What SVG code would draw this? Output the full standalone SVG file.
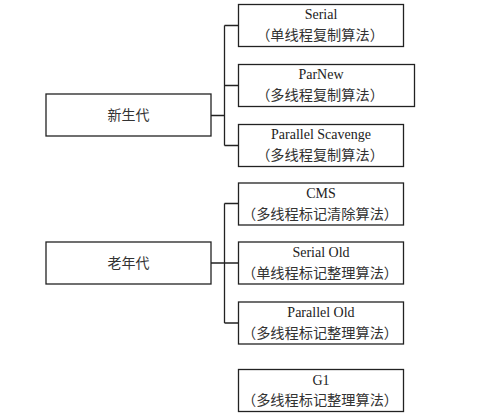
<svg xmlns="http://www.w3.org/2000/svg" width="479" height="420" viewBox="0 0 479 420">
<style>
.box{fill:#fff;stroke:#222;stroke-width:1.3}
.ln{fill:none;stroke:#222;stroke-width:1.3}
.t{font-family:"Liberation Serif","Noto Sans CJK SC",serif;font-size:14px;fill:#222;text-anchor:middle}
.c{font-family:"Noto Sans CJK SC","Liberation Serif",sans-serif;font-size:14.2px;fill:#333;text-anchor:middle}
.g{font-family:"Noto Sans CJK SC",sans-serif;font-size:14px;fill:#333;text-anchor:middle}
</style>
<rect width="479" height="420" fill="#fff"/>
<g id="connectors">
<path class="ln" d="M211 115.5H224.5M224.5 25.5V145.5M224.5 25.5H238.5M224.5 85.5H238.5M224.5 145.5H238.5"/>
<path class="ln" d="M211 263H238.5M224.5 203.5V323M224.5 203.5H238.5M224.5 323H238.5"/>
</g>
<g id="young">
<rect class="box" x="46" y="94" width="165" height="42"/>
<text class="g" x="128.5" y="120">新生代</text>
</g>
<g id="old">
<rect class="box" x="46" y="242" width="165" height="42"/>
<text class="g" x="128.5" y="268">老年代</text>
</g>
<g id="serial">
<rect class="box" x="238.5" y="4.5" width="165" height="42"/>
<text class="t" x="321" y="19">Serial</text>
<text class="c" x="320" y="39.5">（单线程复制算法）</text>
</g>
<g id="parnew">
<rect class="box" x="238.5" y="64.5" width="176" height="42"/>
<text class="t" x="321" y="79">ParNew</text>
<text class="c" x="320" y="99.5">（多线程复制算法）</text>
</g>
<g id="parallel-scavenge">
<rect class="box" x="238.5" y="124.5" width="165" height="42"/>
<text class="t" x="321" y="139">Parallel Scavenge</text>
<text class="c" x="320" y="159.5">（多线程复制算法）</text>
</g>
<g id="cms">
<rect class="box" x="238.5" y="183" width="165" height="42"/>
<text class="t" x="321" y="198">CMS</text>
<text class="c" x="320" y="218.5">（多线程标记清除算法）</text>
</g>
<g id="serial-old">
<rect class="box" x="238.5" y="242" width="165" height="42"/>
<text class="t" x="321" y="257">Serial Old</text>
<text class="c" x="320" y="277.5">（单线程标记整理算法）</text>
</g>
<g id="parallel-old">
<rect class="box" x="238.5" y="302" width="165" height="42"/>
<text class="t" x="321" y="317">Parallel Old</text>
<text class="c" x="320" y="337.5">（多线程标记整理算法）</text>
</g>
<g id="g1">
<rect class="box" x="238.5" y="369.5" width="165" height="42"/>
<text class="t" x="321" y="384.5">G1</text>
<text class="c" x="320" y="405">（多线程标记整理算法）</text>
</g>
</svg>
